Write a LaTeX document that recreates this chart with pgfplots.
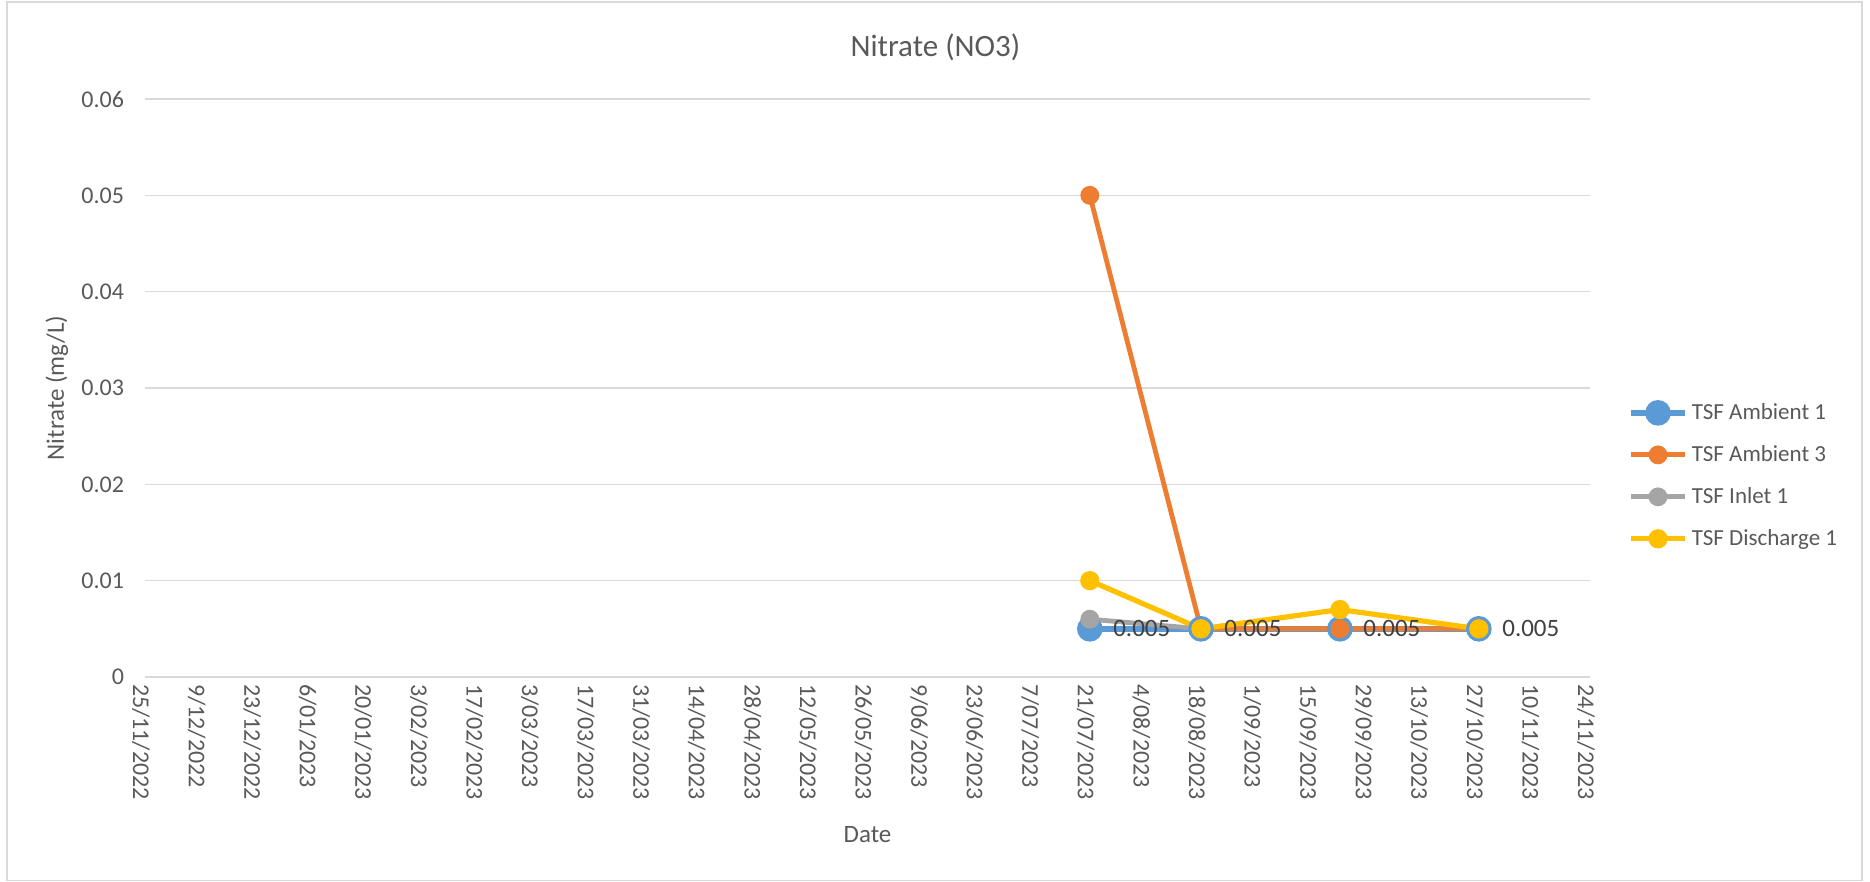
\documentclass[border=0pt]{standalone}
\usepackage{pgfplots}
\pgfplotsset{compat=1.18}
\usepackage{fontspec}
\setmainfont{Carlito}
\definecolor{cblue}{HTML}{5B9BD5}
\definecolor{corange}{HTML}{ED7D31}
\definecolor{cgray}{HTML}{A5A5A5}
\definecolor{cyellow}{HTML}{FFC000}
\definecolor{ctext}{HTML}{595959}
\definecolor{cgrid}{HTML}{D9D9D9}
\definecolor{clabel}{HTML}{404040}
\begin{document}
\begin{tikzpicture}
\path[use as bounding box] (0,0) rectangle (935pt,441pt);
\draw[cgrid, line width=0.7pt] (3.5pt,0.8pt) rectangle (931pt,440pt);
\begin{axis}[
  at={(72.5pt,102.5pt)}, anchor=south west,
  scale only axis, width=722.5pt, height=289pt,
  xmin=0, xmax=364, ymin=0, ymax=0.06,
  xtick={0,14,...,364},
  xticklabels={25/11/2022,9/12/2022,23/12/2022,6/01/2023,20/01/2023,3/02/2023,17/02/2023,3/03/2023,17/03/2023,31/03/2023,14/04/2023,28/04/2023,12/05/2023,26/05/2023,9/06/2023,23/06/2023,7/07/2023,21/07/2023,4/08/2023,18/08/2023,1/09/2023,15/09/2023,29/09/2023,13/10/2023,27/10/2023,10/11/2023,24/11/2023},
  ytick={0,0.01,0.02,0.03,0.04,0.05,0.06},
  yticklabels={0,0.01,0.02,0.03,0.04,0.05,0.06},
  scaled y ticks=false,
  major tick length=0pt,
  axis line style={draw=none},
  ymajorgrids, grid style={cgrid, line width=0.7pt},
  ticklabel style={font=\fontsize{12}{14}\selectfont, text=ctext},
  xticklabel style={rotate=-90, anchor=west, yshift=-2pt},
  yticklabel style={xshift=-7pt},
  xlabel={Date}, ylabel={Nitrate (mg/L)},
  every axis x label/.style={at={(axis description cs:0.5,-0.273)}, anchor=center, font=\fontsize{12.5}{15}\selectfont, text=ctext},
  every axis y label/.style={at={(axis description cs:-0.061,0.5)}, rotate=90, anchor=center, font=\fontsize{12.5}{15}\selectfont, text=ctext},
  legend style={at={(1.022,0.348)}, anchor=west, draw=none, fill=none,
    font=\fontsize{11.5}{14}\selectfont, text=ctext, row sep=7.5pt,
    /tikz/every even column/.append style={column sep=0pt}},
  legend cell align=left,
  legend image code/.code={\draw[mark repeat=2,mark phase=2,#1] plot coordinates {(0pt,0pt)(13.5pt,0pt)(27pt,0pt)};},
  clip=false,
]
\addplot[cblue, line width=2.8pt, mark=*, mark size=5pt, mark options={fill=cblue},
  nodes near coords={\pgfmathprintnumber[fixed,precision=3,assume math mode=true]{\pgfplotspointmeta}},
  every node near coord/.style={anchor=west, xshift=7pt, font=\fontsize{12.5}{15}\selectfont, text=clabel}]
  coordinates {(238,0.005) (266,0.005) (301,0.005) (336,0.005)};
\addlegendentry{TSF Ambient 1}
\addplot[corange, line width=2.4pt, mark=*, mark size=3.5pt, mark options={fill=corange}]
  coordinates {(238,0.05) (266,0.005) (301,0.005) (336,0.005)};
\addlegendentry{TSF Ambient 3}
\addplot[cgray, line width=2.4pt, mark=*, mark size=3.5pt, mark options={fill=cgray}]
  coordinates {(238,0.006) (266,0.005)};
\addlegendentry{TSF Inlet 1}
\addplot[cyellow, line width=2.6pt, mark=*, mark size=3.5pt, mark options={fill=cyellow}]
  coordinates {(238,0.01) (266,0.005) (301,0.007) (336,0.005)};
\addlegendentry{TSF Discharge 1}
\node[font=\fontsize{15.5}{18}\selectfont, text=ctext] at (axis description cs:0.547,1.089) {Nitrate (NO3)};
\end{axis}
\end{tikzpicture}
\end{document}
